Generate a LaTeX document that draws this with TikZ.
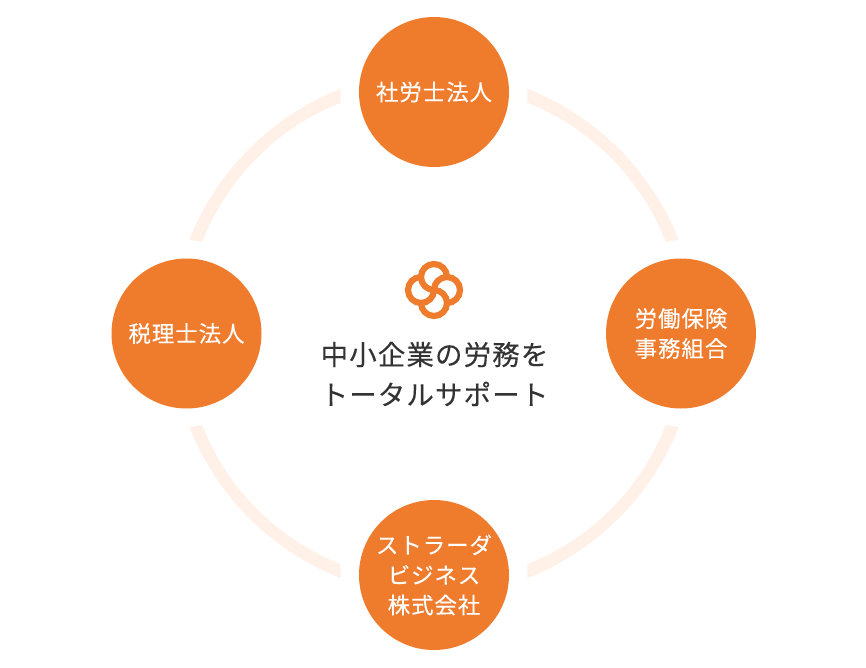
\documentclass[tikz,border=0pt]{standalone}
\usepackage{fontspec}
\newfontfamily\cjk[LetterSpace=4,FakeBold=0.2]{Noto Sans CJK JP}
\newfontfamily\cjkc[LetterSpace=4,FakeBold=0.1]{Noto Sans CJK JP}
\definecolor{brand}{HTML}{EF7B2D}
\definecolor{ringc}{HTML}{FFF1E8}
\definecolor{ink}{HTML}{333333}
\tikzset{
  hub/.style={circle,fill=brand,minimum size=150pt,inner sep=0pt,text=white,align=center,font=\cjk\fontsize{22.5}{30}\selectfont},
  centertext/.style={text=ink,align=center,font=\cjkc\fontsize{27.5}{40}\selectfont},
  petal/.style={draw=brand,line width=6.2pt,line cap=butt}
}
\begin{document}
\begin{tikzpicture}[x=1pt,y=-1pt]
\useasboundingbox (0,0) rectangle (866,668);
\def\segment#1#2{%
  \begin{scope}[shift={(434,333.5)},xscale=#1,yscale=#2]
    \fill[ringc] (-93.3,-244.7) -- (-93.3,-230.7)
      .. controls (-153,-207) and (-205,-159) .. (-231.7,-91.7)
      -- (-244.7,-93.7)
      .. controls (-216,-166) and (-159,-219) .. cycle;
  \end{scope}}
\segment{1}{1}\segment{-1}{1}\segment{1}{-1}\segment{-1}{-1}
\node[hub] (top) at (434,92) {社労士法人};
\node[hub] (left) at (186.5,333.5) {税理士法人};
\node[hub] (right) at (681,333.5) {労働保険\\事務組合};
\node[hub] (bottom) at (434,575) {ストラーダ\\ビジネス\\株式会社};
\begin{scope}[shift={(434,290)},y=1pt]
  \foreach \r in {0,90,180,270}{
    \begin{scope}[rotate=\r]
      \draw[petal] (0,0) arc[start angle=270,end angle=0,radius=13];
    \end{scope}}
\end{scope}
\node[centertext] (label) at (434.5,374) {中小企業の労務を\\トータルサポート};
\end{tikzpicture}
\end{document}
